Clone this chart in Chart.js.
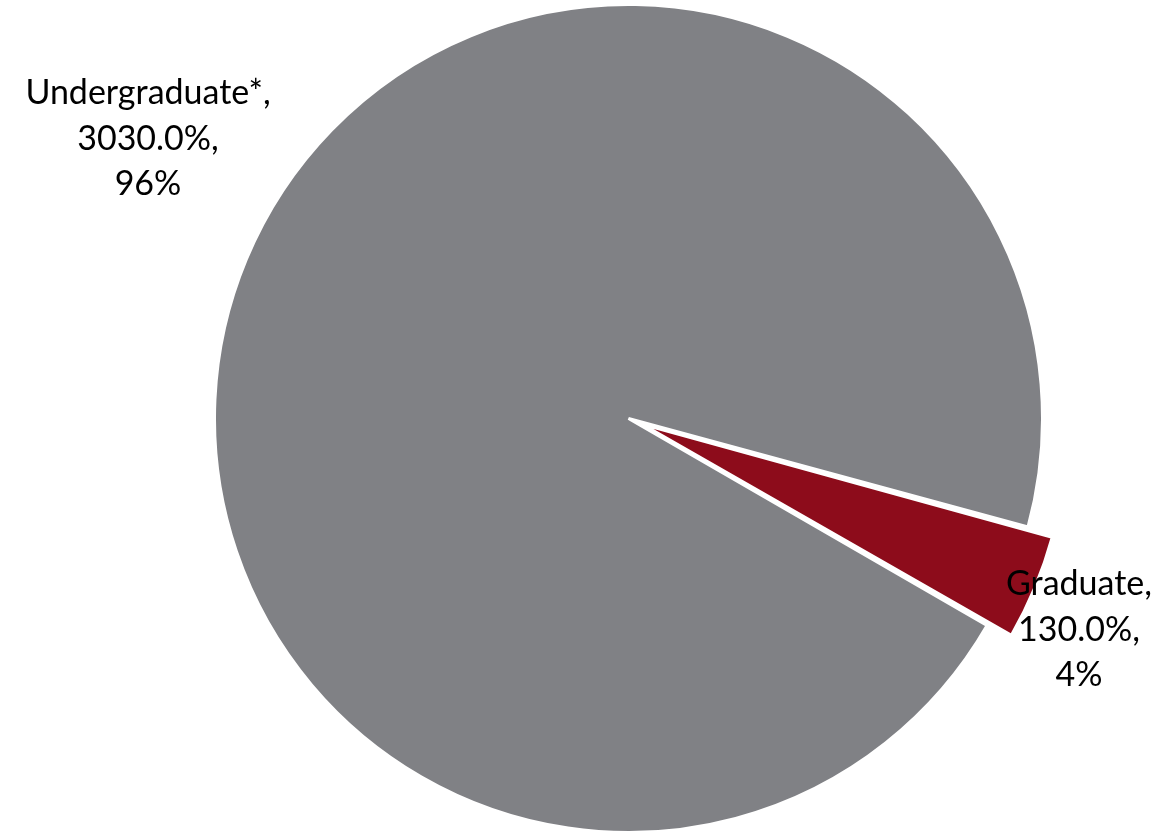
<!DOCTYPE html>
<html>
<head>
<meta charset="utf-8">
<script src="https://cdn.jsdelivr.net/npm/chart.js@4/dist/chart.umd.min.js"></script>
<style>
  html, body { margin: 0; padding: 0; background: #ffffff; }
  #wrap { width: 1161px; height: 832px; }
</style>
</head>
<body>
<div id="wrap"><canvas id="c" width="1161" height="832"></canvas></div>
<script>
const categories = ["Undergraduate*", "Graduate"];
const values = [3030, 130];
const shares = [96, 4];
const sliceColors = ["#808185", "#8D0C1B"];

const labelLines = categories.map((c, i) => [c + ",", values[i].toFixed(1) + "%,", shares[i] + "%"]);
const labelAnchors = [{x: 148, y: 104}, {x: 1079, y: 595}];

const labelPlugin = {
  id: "sliceLabels",
  afterDatasetsDraw(chart) {
    const ctx = chart.ctx;
    ctx.save();
    ctx.font = "34px Lato";
    ctx.fillStyle = "#000000";
    ctx.textAlign = "center";
    ctx.textBaseline = "alphabetic";
    labelLines.forEach((lines, i) => {
      const a = labelAnchors[i];
      lines.forEach((t, j) => ctx.fillText(t, a.x, a.y + j * 45.5));
    });
    ctx.restore();
  }
};

new Chart(document.getElementById("c"), {
  type: "pie",
  data: {
    labels: categories,
    datasets: [{
      data: values,
      backgroundColor: sliceColors,
      borderColor: "#ffffff",
      borderWidth: 3,
      offset: [0, 60],
      hoverOffset: 0
    }]
  },
  options: {
    responsive: false,
    animation: false,
    events: [],
    rotation: 120,
    radius: 414,
    layout: { padding: { left: 96, top: 5, right: 0, bottom: 0 } },
    plugins: { legend: { display: false }, tooltip: { enabled: false } }
  },
  plugins: [labelPlugin]
});
</script>
</body>
</html>
